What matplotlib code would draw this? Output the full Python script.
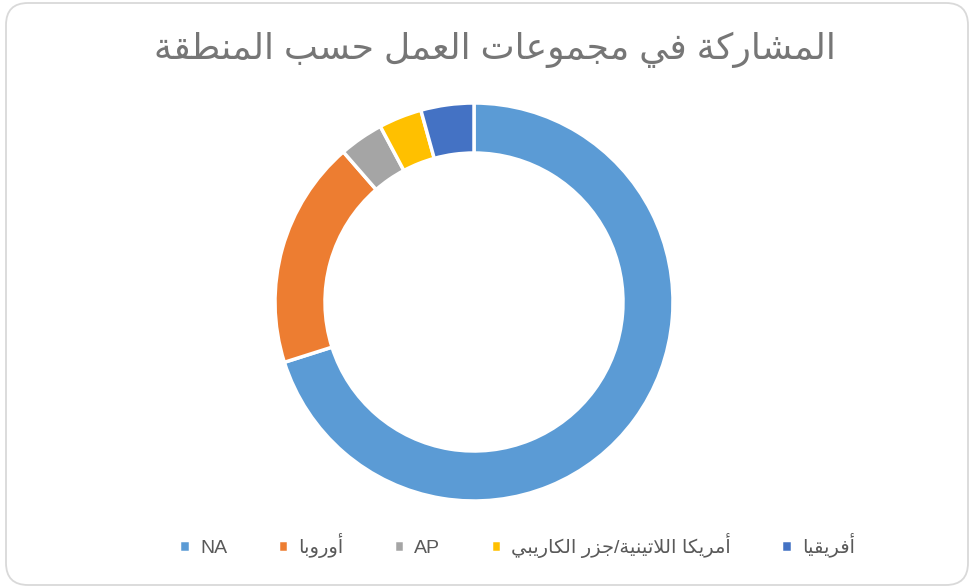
import matplotlib
matplotlib.use("Agg")
import matplotlib.pyplot as plt
import matplotlib.patches as mpatches
from matplotlib.transforms import IdentityTransform

plt.rcParams['font.family'] = ['Liberation Sans', 'DejaVu Sans']

# data
regions = ["NA", "أوروبا", "AP", "أمريكا اللاتينية/جزر الكاريبي", "أفريقيا"]
shares = [70.1, 18.5, 3.6, 3.5, 4.3]
colors = ["#5B9BD5", "#ED7D31", "#A5A5A5", "#FFC000", "#4472C4"]
title = "المشاركة في مجموعات العمل حسب المنطقة"

# matplotlib has no arabic shaping, so do a small one by hand
# isolated form in presentation forms B; +1 final, +2 initial, +3 medial
iso = {'ا': 0xFE8D, 'أ': 0xFE83, 'ب': 0xFE8F, 'ة': 0xFE93, 'ت': 0xFE95,
       'ج': 0xFE9D, 'ح': 0xFEA1, 'ر': 0xFEAD, 'ز': 0xFEAF, 'س': 0xFEB1,
       'ش': 0xFEB5, 'ط': 0xFEC1, 'ع': 0xFEC9, 'ف': 0xFED1, 'ق': 0xFED5,
       'ك': 0xFED9, 'ل': 0xFEDD, 'م': 0xFEE1, 'ن': 0xFEE5, 'و': 0xFEED,
       'ي': 0xFEF1}
right_only = set('اأةرزو')
lam_alef = {'ا': 0xFEFB, 'أ': 0xFEF7}


def shape(text):
    if not any(c in iso for c in text):
        return text
    out = []
    i = 0
    n = len(text)
    while i < n:
        c = text[i]
        if c not in iso:
            out.append(c)
            i += 1
            continue
        prev = text[i - 1] if i > 0 else ''
        joins_prev = prev in iso and prev not in right_only
        if c == 'ل' and i + 1 < n and text[i + 1] in lam_alef:
            out.append(chr(lam_alef[text[i + 1]] + (1 if joins_prev else 0)))
            i += 2
            continue
        nxt = text[i + 1] if i + 1 < n else ''
        joins_next = c not in right_only and nxt in iso
        if joins_prev and joins_next:
            off = 3
        elif joins_prev:
            off = 1
        elif joins_next:
            off = 2
        else:
            off = 0
        out.append(chr(iso[c] + off))
        i += 1
    return ''.join(out)[::-1]


fig = plt.figure(figsize=(9.74, 5.88), dpi=100)

# rounded chart border
border = mpatches.FancyBboxPatch((6, 3), 962, 582,
                                 boxstyle="round,pad=0,rounding_size=22",
                                 transform=IdentityTransform(),
                                 facecolor="none", edgecolor="#D9D9D9",
                                 linewidth=1.3, zorder=-1)
fig.patches.append(border)

ax = fig.add_axes([274 / 974, 86 / 588, 400 / 974, 400 / 588])
wedges, _ = ax.pie(shares, colors=colors, startangle=90, counterclock=False,
                   radius=0.995,
                   wedgeprops=dict(width=0.25, edgecolor="white", linewidth=2.5))
ax.set_xlim(-1, 1)
ax.set_ylim(-1, 1)
ax.set_aspect("equal")
ax.axis("off")

fig.text(0.508, 0.915, shape(title), ha="center", va="center",
         fontsize=26, color="#767676")

fig.legend(wedges, [shape(r) for r in regions], loc="center",
           bbox_to_anchor=(0.531, 0.073), ncol=5, frameon=False,
           fontsize=14, labelcolor="#595959", handlelength=0.55,
           handleheight=0.55, handletextpad=0.5, columnspacing=2.6)

fig.savefig("out.png", dpi=100)
